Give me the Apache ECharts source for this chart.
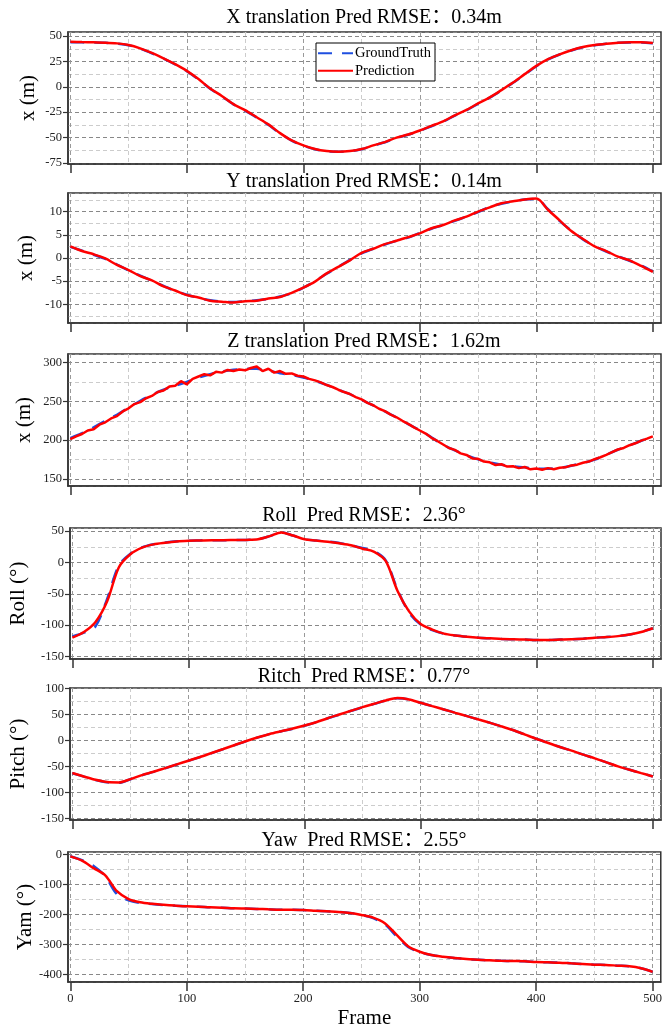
<!DOCTYPE html>
<html>
<head>
<meta charset="utf-8">
<script src="https://cdn.jsdelivr.net/npm/echarts@6/dist/echarts.min.js"></script>
<style>
  html, body { margin: 0; padding: 0; background: #fff; }
  #chart { width: 665px; height: 1030px; }
</style>
</head>
<body>
<div id="chart"></div>
<script>
// frame index, every 10 frames
const frames = [0, 10, 20, 30, 40, 50, 60, 70, 80, 90, 100, 110, 120, 130, 140, 150, 160, 170, 180, 190,
  200, 210, 220, 230, 240, 250, 260, 270, 280, 290, 300, 310, 320, 330, 340, 350, 360, 370, 380, 390,
  400, 410, 420, 430, 440, 450, 460, 470, 480, 490, 500]
// z prediction is sampled finer (it is noisy)
const framesFine = [0, 5, 10, 15, 20, 25, 30, 35, 40, 45, 50, 55, 60, 65, 70, 75, 80, 85, 90, 95,
  100, 105, 110, 115, 120, 125, 130, 135, 140, 145, 150, 155, 160, 165, 170, 175, 180, 185, 190, 195,
  200, 205, 210, 215, 220, 225, 230, 235, 240, 245, 250, 255, 260, 265, 270, 275, 280, 285, 290, 295,
  300, 305, 310, 315, 320, 325, 330, 335, 340, 345, 350, 355, 360, 365, 370, 375, 380, 385, 390, 395,
  400, 405, 410, 415, 420, 425, 430, 435, 440, 445, 450, 455, 460, 465, 470, 475, 480, 485, 490, 495, 500]
const xTicks = [0, 100, 200, 300, 400, 500]

const xGt = [44.0, 43.8, 43.6, 43.3, 42.6, 41.0, 37.6, 33.0, 27.8, 22.0, 15.4, 7.3, -1.9, -9.3, -17.3, -23.5, -30.3, -37.4, -45.8, -53.0,
  -57.9, -61.5, -63.4, -64.0, -63.4, -61.5, -57.9, -54.6, -50.3, -47.2, -43.3, -38.8, -34.3, -28.4, -23.1, -16.7, -10.7, -3.6, 4.0, 12.1,
  20.3, 27.0, 31.8, 35.8, 39.0, 41.0, 42.4, 43.3, 43.7, 43.7, 43.0]
const xPred = [44.5, 44.1, 43.8, 43.5, 42.8, 41.2, 37.9, 33.4, 28.1, 22.3, 15.7, 7.6, -1.6, -9.0, -17.0, -23.0, -30.0, -37.0, -45.6, -52.8,
  -57.7, -61.3, -63.3, -64.0, -63.3, -61.3, -57.7, -54.4, -50.0, -47.0, -43.0, -38.5, -34.0, -28.0, -22.8, -16.3, -10.4, -3.2, 4.3, 12.5,
  20.6, 27.2, 32.0, 36.0, 39.2, 41.2, 42.5, 43.5, 43.8, 43.8, 43.1]

const yGt = [2.4, 1.6, 0.7, -0.2, -1.4, -2.7, -3.8, -4.9, -6.0, -7.1, -7.9, -8.6, -9.1, -9.4, -9.5, -9.3, -9.1, -8.8, -8.3, -7.6,
  -6.4, -5.0, -3.4, -1.9, -0.4, 1.0, 2.0, 2.9, 3.7, 4.4, 5.4, 6.3, 7.1, 8.0, 8.9, 9.9, 11.0, 11.7, 12.2, 12.6,
  12.7, 10.5, 8.0, 5.9, 4.0, 2.6, 1.4, 0.4, -0.6, -1.6, -2.9]
const yPred = [2.5, 1.5, 0.8, -0.1, -1.5, -2.6, -3.9, -4.8, -6.1, -7.0, -8.0, -8.5, -9.2, -9.4, -9.6, -9.3, -9.2, -8.7, -8.4, -7.5,
  -6.4, -5.1, -3.3, -1.9, -0.5, 1.1, 2.0, 3.0, 3.7, 4.5, 5.3, 6.4, 7.1, 8.1, 8.9, 10.0, 10.9, 11.8, 12.2, 12.6,
  12.8, 10.4, 8.1, 5.8, 4.1, 2.5, 1.5, 0.3, -0.5, -1.7, -3.0]

const zGt = [202.7, 209.0, 216.4, 225.0, 232.7, 242.0, 250.7, 258.4, 265.0, 270.0, 275.0, 280.7, 285.0, 288.4, 290.6, 291.9, 292.0, 289.7, 286.3, 284.0,
  280.7, 276.4, 271.3, 264.9, 259.3, 252.0, 244.7, 237.0, 229.3, 220.7, 213.0, 203.6, 194.1, 186.9, 180.4, 175.3, 171.4, 168.4, 166.3, 165.0,
  163.3, 163.3, 164.1, 167.1, 170.6, 174.9, 181.3, 187.7, 193.3, 199.3, 204.9]
const zPred = [201.5, 205.0, 208.0, 212.5, 214.0, 220.0, 223.0, 228.0, 231.0, 237.0, 241.0, 246.5, 249.0, 254.0, 257.0, 262.0, 264.0, 269.0, 270.0, 276.0,
  272.0, 279.0, 282.0, 285.0, 283.5, 288.0, 287.0, 290.5, 289.0, 291.0, 290.0, 293.0, 295.0, 289.0, 292.0, 287.0, 289.0, 285.5, 286.0, 283.0,
  282.0, 279.0, 277.0, 274.5, 271.0, 268.5, 265.0, 262.0, 259.5, 255.5, 252.5, 248.0, 245.0, 240.5, 237.5, 233.0, 229.5, 225.0, 221.0, 216.5,
  212.5, 208.5, 203.0, 199.0, 194.5, 190.0, 187.5, 183.0, 181.0, 176.5, 176.0, 172.5, 171.5, 168.0, 169.0, 166.0, 166.5, 164.0, 165.5, 162.5,
  163.5, 162.0, 164.0, 162.5, 164.5, 165.0, 167.5, 168.5, 171.0, 172.5, 175.5, 178.0, 181.0, 184.5, 188.0, 190.0, 193.5, 196.0, 199.5, 202.0, 205.0]

const rollGt = [-118, -112, -102, -58, -5, 14, 24, 29, 31.8, 33.8, 34.8, 35.2, 35.6, 35.6, 35.9, 36, 37, 42, 48, 43,
  37, 35, 33.5, 31, 27.5, 23, 18, 3, -43, -80, -99, -108, -113.5, -116.5, -118.5, -120, -121, -122, -122.5, -123,
  -123.5, -123.5, -123, -122.5, -121.5, -120, -119, -117.5, -115, -111, -105]
const rollPred = [-120, -111, -95, -62, -8, 13, 23.6, 28.9, 31.5, 33.5, 34.5, 35, 35.5, 35.5, 35.8, 36, 37, 42, 48, 43,
  37, 35, 33, 30.5, 27.5, 22, 17, 2, -45, -78, -98, -107, -113.5, -116.5, -118.5, -120, -121, -122, -122.5, -123,
  -123.5, -123.5, -123, -122.5, -121.5, -120, -119, -117.5, -115, -111, -105]

const pitchGt = [-63, -69.5, -76, -80.5, -81.5, -74.5, -66.8, -60.4, -53.3, -46.2, -39.1, -32, -24.3, -16.6, -8.8, -1.1, 6, 12.4, 17.6, 22.7,
  28.5, 35, 42.7, 49.8, 56.9, 64, 70.4, 76.9, 81.4, 79, 72.6, 66.1, 59.7, 53.2, 46.8, 40.3, 33.9, 26.8, 19.7, 11.3,
  2.9, -4.8, -12.5, -19.6, -27.3, -34.4, -42.1, -49.9, -56.3, -62.8, -69.2]
const pitchPred = [-62.7, -69.2, -75.6, -80.1, -80.8, -74.3, -66.6, -60.2, -53.1, -46, -38.9, -31.8, -24.1, -16.4, -8.6, -0.9, 6.2, 12.6, 17.8, 22.9,
  28.7, 35.2, 42.9, 50, 57.1, 64.2, 70.6, 77.1, 81.6, 79, 72.6, 66.1, 59.7, 53.2, 46.8, 40.3, 33.9, 26.8, 19.7, 11.3,
  2.9, -4.8, -12.5, -19.6, -27.3, -34.4, -42.1, -49.9, -56.3, -62.8, -69.2]

const yawGt = [-5, -18, -38, -72, -132, -152, -161, -165, -168, -170.5, -172.5, -173.6, -175.8, -177, -179, -180, -181, -182.4, -183.5, -183.5,
  -184.6, -186.8, -189, -191, -194.5, -201, -212, -232, -272, -308, -325, -335, -340.7, -345, -348.4, -350.6, -352.8, -354, -355, -356,
  -358.3, -359.4, -360.5, -362.7, -364.8, -367, -368, -370.4, -372.6, -379, -391]
const yawPred = [-5.5, -19.8, -45, -69, -122, -148, -159, -164, -167, -170, -172.5, -173.6, -175.8, -177, -179, -180, -181, -182.4, -183.5, -183.5,
  -184.6, -186.8, -189, -191, -194.5, -201, -210, -228.6, -267, -305.5, -324, -335, -340.7, -345, -348.4, -350.6, -352.8, -354, -355, -356,
  -358.3, -359.4, -360.5, -362.7, -364.8, -367, -368, -370.4, -372.6, -379, -391]

const titles = [
  'X translation Pred RMSE：0.34m',
  'Y translation Pred RMSE：0.14m',
  'Z translation Pred RMSE：1.62m',
  'Roll  Pred RMSE：2.36°',
  'Ritch  Pred RMSE：0.77°',
  'Yaw  Pred RMSE：2.55°',
]
const yNames = ['x (m)', 'x (m)', 'x (m)', 'Roll (°)', 'Pitch (°)', 'Yam (°)']

const SERIF = "'Liberation Serif', 'Times New Roman', 'Noto Sans CJK SC', serif"

// panel layout: [gridTop, gridBottom(px from top), titleTop, yMin, yMax, yStep, nameGap]
const panels = [
  [32, 164, 8, -76, 54, 25, 29],
  [193, 323, 172, -14, 14, 5, 31],
  [354, 486, 332, 141, 311, 50, 33],
  [528, 659, 506, -154, 55, 50, 41],
  [688, 820, 667, -153, 101, 50, 41],
  [852, 984, 831, -425, 9, 100, 32],
]
const gtSets = [xGt, yGt, zGt, rollGt, pitchGt, yawGt]
const predSets = [xPred, yPred, zPred, rollPred, pitchPred, yawPred]

const chart = echarts.init(document.getElementById('chart'))

const grid = [], xAxis = [], yAxis = [], title = [], series = []
panels.forEach((p, i) => {
  const last = i === panels.length - 1
  grid.push({
    left: 68, right: 4, top: p[0], height: p[1] - p[0],
    show: true, borderColor: '#333', borderWidth: 1.5, backgroundColor: 'transparent',
  })
  title.push({
    text: titles[i], left: 364, top: p[2], textAlign: 'center', padding: 0,
    textStyle: { fontFamily: SERIF, fontSize: 20, fontWeight: 'normal', color: '#000' },
  })
  xAxis.push({
    type: 'value', gridIndex: i, min: -2, max: 507,
    minInterval: 100, maxInterval: 100,
    axisLine: { onZero: false, lineStyle: { color: '#333', width: 1.5 } },
    axisTick: { show: true, length: 9, customValues: xTicks, lineStyle: { color: '#333', width: 1.5 } },
    axisLabel: {
      show: last, showMinLabel: false, showMaxLabel: false, margin: 10,
      fontFamily: SERIF, fontSize: 12.5, color: '#222',
    },
    splitLine: { show: true, lineStyle: { color: '#999', type: [4, 3], width: 1 } },
    minorTick: { show: false, splitNumber: 2 },
    minorSplitLine: { show: true, lineStyle: { color: '#ccc', type: [4, 3], width: 1 } },
    name: last ? 'Frame' : '', nameLocation: 'middle', nameGap: 26, nameMoveOverlap: false,
    nameTextStyle: { fontFamily: SERIF, fontSize: 21, color: '#000' },
  })
  yAxis.push({
    type: 'value', gridIndex: i, min: p[3], max: p[4],
    minInterval: p[5], maxInterval: p[5],
    axisLine: { show: true, onZero: false, lineStyle: { color: '#333', width: 1.5 } },
    axisTick: { show: true, length: 5, lineStyle: { color: '#333', width: 1.2 } },
    axisLabel: {
      showMinLabel: false, showMaxLabel: false, margin: 6,
      fontFamily: SERIF, fontSize: 12.5, color: '#222',
    },
    splitLine: { show: true, lineStyle: { color: '#888', type: [4, 3], width: 1 } },
    minorTick: { show: false, splitNumber: 2 },
    minorSplitLine: { show: true, lineStyle: { color: '#ccc', type: [4, 3], width: 1 } },
    name: yNames[i], nameLocation: 'middle', nameGap: p[6], nameMoveOverlap: false,
    nameTextStyle: { fontFamily: SERIF, fontSize: 21, color: '#000' },
  })
  const predFrames = i === 2 ? framesFine : frames
  series.push({
    name: 'GroundTruth', type: 'line', xAxisIndex: i, yAxisIndex: i,
    data: frames.map((f, k) => [f, gtSets[i][k]]),
    showSymbol: false, symbol: 'none', smooth: 0.3,
    lineStyle: { color: '#1f4fe0', width: 2.5, type: [14, 10] },
    itemStyle: { color: '#1f4fe0' },
    z: 2,
  })
  series.push({
    name: 'Prediction', type: 'line', xAxisIndex: i, yAxisIndex: i,
    data: predFrames.map((f, k) => [f, predSets[i][k]]),
    showSymbol: false, symbol: 'none', smooth: i === 2 ? false : 0.3,
    lineStyle: { color: '#ff0000', width: 2.5 },
    itemStyle: { color: '#ff0000' },
    z: 3,
  })
})

chart.setOption({
  backgroundColor: '#fff',
  animation: false,
  title,
  legend: {
    data: ['GroundTruth', 'Prediction'],
    orient: 'vertical', left: 316, top: 43,
    padding: [3, 4, 3, 1], itemGap: 3, itemWidth: 35, itemHeight: 14,
    backgroundColor: '#fff', borderColor: '#000', borderWidth: 1, borderRadius: 0,
    itemStyle: { opacity: 0 },
    textStyle: { fontFamily: SERIF, fontSize: 14.5, color: '#000', padding: [0, 0, 0, -3] },
  },
  grid, xAxis, yAxis, series,
})
</script>
</body>
</html>
